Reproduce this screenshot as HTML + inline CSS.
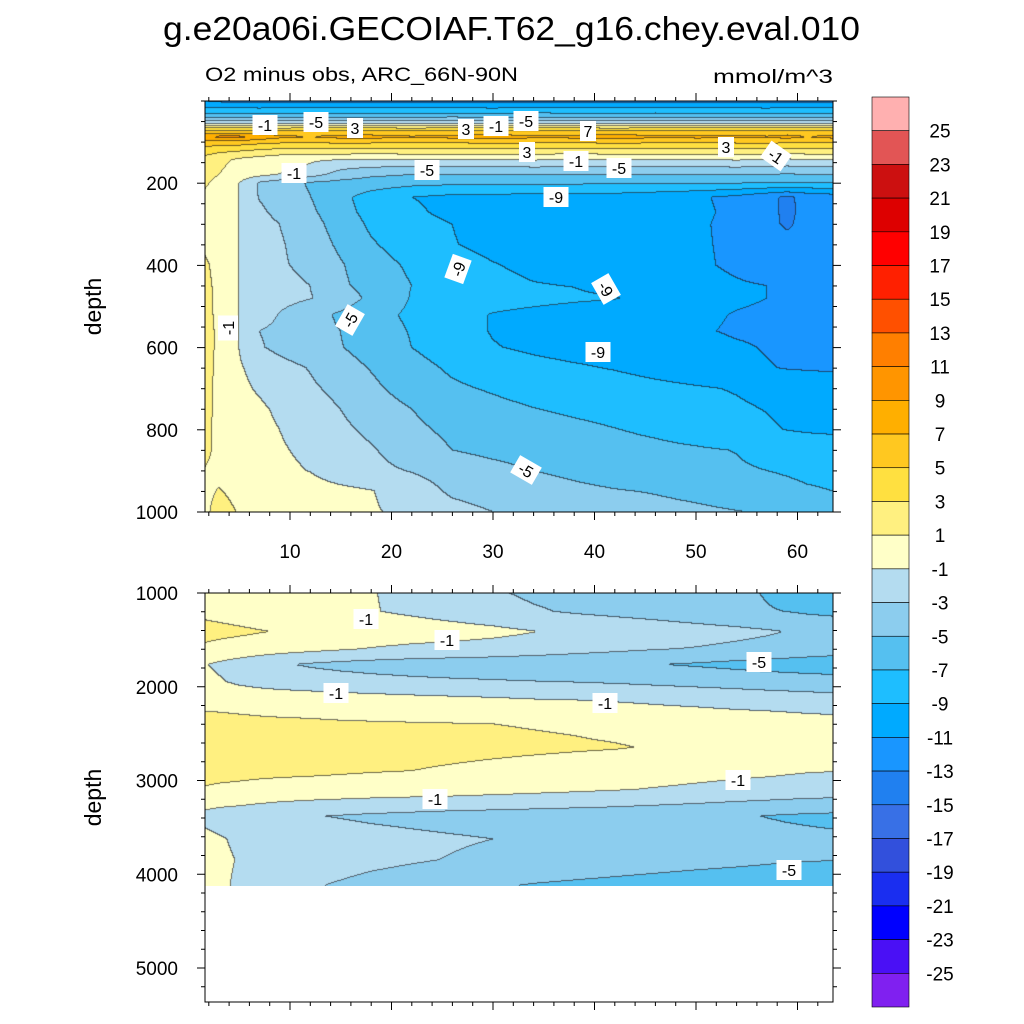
<!DOCTYPE html>
<html><head><meta charset="utf-8">
<style>
html,body{margin:0;padding:0;background:#fff;}
#wrap{position:relative;width:1024px;height:1024px;overflow:hidden;font-family:"Liberation Sans",sans-serif;}
canvas{position:absolute;}
svg{position:absolute;left:0;top:0;}
</style></head>
<body>
<div id="wrap">
<canvas id="cTop" width="628" height="411" style="left:205px;top:101px"></canvas>
<canvas id="cBot" width="628" height="293" style="left:205px;top:593px"></canvas>
<svg id="ov" width="1024" height="1024"></svg>
</div>
<script>
// ---- data ----
const levelColors=["#ffb0b0","#e25555","#cc1010","#dd0000","#ff0000","#ff2000","#ff5000","#ff7f00","#ff9500","#ffaf00","#ffc820","#ffe040","#fff080","#ffffc8","#b4dcf0","#8ccdee","#55c0f0","#1ebeff","#00aaff","#1996ff","#2080f0","#3870e6","#3250dc","#1a2ef0","#0000ff","#4a10f5","#8020f0"];
const colorbarLabels=[25,23,21,19,17,15,13,11,9,7,5,3,1,-1,-3,-5,-7,-9,-11,-13,-15,-17,-19,-21,-23,-25];
const xCols=[1.6,3,5,7,9,12,15,18,22,26,30,34,38,42,46,50,54,57,59,61,63.5];
const topDepths=[0,8,17,25,34,43,51,57,63,68,75,88,100,115,127,144,161,180,200,235,270,300,350,400,450,480,520,560,600,650,700,750,800,850,900,950,1000];
const topVals=[
[-11,-11.5,-12,-12,-12,-12,-12,-12,-12,-12,-12,-12,-12,-12,-12,-12,-12,-12,-12,-12,-12],
[-10,-10.3,-10.5,-10.5,-10.5,-10.5,-10.4,-10.6,-10.5,-10.5,-10.5,-10.4,-10.6,-10.5,-10.5,-10.5,-10.4,-10.6,-10.5,-10.5,-10.5],
[-9,-9,-9,-9.2,-9,-8.8,-9,-9.1,-8.9,-9,-9.2,-9,-8.9,-9.1,-9,-8.8,-9,-9.2,-9,-9,-9],
[-8,-8,-8,-8,-7.8,-8,-8.2,-8,-7.9,-8,-8.1,-7.8,-8,-8.2,-7.9,-8,-8,-8.1,-7.8,-8,-8],
[-6.5,-6.5,-6.7,-6.4,-6.6,-6.8,-6.3,-6.5,-6.8,-6.4,-6.6,-6.2,-6.7,-6.5,-6.4,-6.8,-6.5,-6.3,-6.6,-6.5,-6.5],
[-4.5,-4.4,-4.6,-4.3,-4.7,-4.5,-4.4,-4.8,-4.5,-4.3,-4.6,-4.5,-4.4,-4.7,-4.5,-4.4,-4.6,-4.5,-4.3,-4.5,-4.5],
[-2.5,-2.4,-2.6,-2.5,-2.3,-2.6,-2.5,-2.4,-2.6,-2.5,-2.5,-2.3,-2.6,-2.5,-2.4,-2.5,-2.6,-2.5,-2.4,-2.5,-2.5],
[-0.3,-0.4,-0.5,-0.5,-0.6,-0.5,-0.4,-0.5,-0.6,-0.5,-0.5,-0.4,-0.5,-0.5,-0.6,-0.5,-0.5,-0.4,-0.5,-0.5,-0.5],
[1.8,1.6,1.5,1.5,1.4,1.5,1.6,1.5,1.4,1.5,1.5,1.6,1.5,1.4,1.5,1.5,1.6,1.5,1.5,1.5,1.5],
[3.8,3.6,3.5,3.5,3.4,3.5,3.6,3.5,3.4,3.5,3.5,3.6,3.5,3.4,3.5,3.5,3.6,3.5,3.5,3.5,3.5],
[6,5.8,5.6,5.5,5.4,5.5,5.6,5.5,5.4,5.5,5.5,5.6,5.5,5.4,5.5,5.5,5.6,5.5,5.5,5.5,5.5],
[8,9.5,9.5,8.5,7.5,7,7.6,7.7,7.2,7.6,7.8,7.5,7.6,8.2,7.3,7.6,7.5,7.2,7.7,7,7.6],
[6.5,6.5,6.3,5.8,5.5,5.4,5.6,5.5,5.4,5.5,5.6,5.5,5.4,5.6,5.5,5.4,5.5,5.6,5.5,5.4,5.5],
[4.5,4.3,4,3.6,3.3,3.2,3.2,3.3,3.2,3.2,3.1,3.3,3.2,3.3,3.1,3.2,3.3,3.2,3.1,3.2,3.2],
[3.5,3,2.5,2,1.6,1.5,1.5,1.4,1.5,1.5,1.6,1.5,1.4,1.5,1.5,1.5,1.6,1.5,1.3,1.5,1.5],
[2.2,1.6,0.6,0.1,-0.3,-0.8,-1,-1.1,-1,-1,-1.1,-0.9,-1,-1,-1.1,-1,-0.9,-1,-1.3,-1,-1],
[2,1.3,0.3,0,-0.4,-1.2,-2.5,-2.9,-3,-3,-3.1,-2.9,-3,-3,-3.1,-3,-2.9,-3,-3.2,-3,-3],
[2,1,0,-0.5,-1.1,-2.2,-3.8,-4.6,-5,-5,-5.1,-4.9,-5,-5.1,-5,-5,-4.9,-5,-5.2,-5,-5],
[1.5,0,-1,-3.2,-4,-5.2,-5.6,-6,-6.4,-6.6,-6.6,-6.7,-6.7,-6.8,-6.8,-6.8,-6.9,-6.9,-7,-7,-7.1],
[0.3,0,-1,-3.1,-4,-4.95,-6.5,-7.8,-9,-9.5,-9.6,-9.7,-9.8,-9.8,-10.2,-10.7,-11.5,-12.6,-13.3,-12.5,-12],
[0.3,0,-1,-2.6,-3.6,-4.6,-6.3,-7.6,-8.6,-9.6,-9.9,-10,-10,-10.1,-10.3,-10.6,-11.4,-12.4,-13.4,-12.5,-12],
[0.3,0,-1,-2.2,-3,-4.2,-5.9,-7.3,-8.2,-9,-9.7,-10,-10.1,-10.2,-10.4,-10.7,-11.5,-12.4,-13.3,-12.3,-11.8],
[0.6,0,-1,-2,-2.8,-3.8,-5.4,-6.8,-7.9,-8.9,-9.5,-9.8,-9.9,-10.1,-10.3,-10.7,-11.4,-12,-12.3,-12.2,-11.8],
[1.4,0.3,-1,-2,-2.8,-3.4,-4.8,-6.2,-7.3,-8.2,-8.9,-9.4,-9.7,-10,-10.3,-10.7,-11.3,-11.9,-12.1,-12.1,-11.9],
[1.7,0.4,-1,-1.9,-2.5,-3,-4.6,-5.8,-7,-8,-8.5,-8.9,-9.05,-9.6,-10,-10.4,-10.8,-11,-11.6,-11.8,-11.8],
[1.8,0.5,-1,-1.8,-2.4,-2.9,-3.8,-5.5,-7.1,-7.7,-8.1,-8.4,-8.7,-8.9,-9.6,-10.2,-10.7,-11,-11.5,-11.7,-11.7],
[1.8,0.5,-1,-2,-3.1,-4.2,-5.3,-6.4,-7.3,-8.3,-9.1,-9.5,-9.8,-10,-10.2,-10.6,-11.1,-11.3,-11.5,-11.7,-11.8],
[1.9,0.6,-1,-3,-3.5,-4.3,-5,-6.2,-7.1,-8.3,-9.1,-9.6,-9.9,-10.1,-10.4,-10.8,-11.2,-11.3,-11.5,-11.6,-11.7],
[1.9,0.6,-1,-2.8,-3.5,-4.3,-4.9,-5.8,-7,-8,-8.9,-9.3,-9.6,-9.8,-10,-10.4,-10.8,-11.1,-11.3,-11.4,-11.5],
[1.9,0.5,-0.8,-1.6,-2.3,-3.1,-4.2,-5.1,-6.3,-7.3,-8,-8.5,-8.8,-9.1,-9.5,-9.9,-10.4,-10.9,-11.1,-11.2,-11.3],
[1.8,0.4,-0.6,-1.2,-1.9,-2.7,-3.5,-4.6,-5.8,-6.7,-7.2,-7.7,-8,-8.3,-8.6,-8.85,-9.1,-9.4,-9.6,-9.7,-9.8],
[1.8,0.4,-0.3,-0.7,-1.3,-2.2,-3,-4,-5,-5.9,-6.5,-6.95,-7.3,-7.6,-8,-8.4,-8.8,-9.05,-9.3,-9.4,-9.5],
[1.6,0.4,-0.1,-0.5,-1,-1.8,-2.6,-3.4,-4.6,-5.4,-5.9,-6.3,-6.6,-6.95,-7.3,-7.8,-8.4,-8.8,-9.05,-9.2,-9.3],
[1.5,0.5,0,-0.3,-0.8,-1.4,-2.2,-2.8,-4,-5,-5.5,-5.9,-6.2,-6.4,-6.6,-6.8,-7.05,-7.5,-7.8,-8,-8.1],
[0.9,0.5,0.1,-0.2,-0.6,-1.05,-1.9,-2.5,-3.1,-3.8,-4.4,-5,-5.4,-5.8,-6.2,-6.5,-6.8,-7,-7.2,-7.4,-7.5],
[0.6,1.1,0.6,0.2,0,-0.3,-0.6,-0.9,-2,-3.3,-3.8,-4.2,-4.6,-4.9,-5.1,-5.4,-5.8,-6.2,-6.5,-6.8,-7],
[0.6,1.6,0.9,0.5,0.3,0,-0.4,-0.8,-1.5,-2.4,-3,-3.5,-3.9,-4.2,-4.5,-4.7,-4.95,-5.1,-5.2,-5.3,-5.3]
];
const botDepths=[1000,1200,1415,1600,1766,1950,2150,2400,2650,2900,3100,3383,3628,3850,4120];
const botVals=[
[0.3,0.2,0,0,-0.1,-0.3,-0.6,-0.9,-1.5,-2.2,-2.8,-3.3,-3.6,-3.9,-4.1,-4.4,-4.7,-5.1,-5.5,-5.8,-6],
[0.5,0.4,0.2,0,-0.1,-0.3,-0.6,-0.9,-1.3,-1.8,-2.3,-2.8,-3.2,-3.5,-3.8,-4.2,-4.6,-4.9,-5.02,-5.3,-5.5],
[1.7,1.5,1.3,1.1,0.9,0.6,0.4,0.2,0,-0.2,-0.5,-0.95,-1.3,-1.6,-1.9,-2.2,-2.5,-2.8,-3.05,-3.2,-3.4],
[0.6,0.4,0.2,0,-0.2,-0.5,-0.8,-1.1,-1.4,-1.6,-1.8,-2,-2.3,-2.6,-2.9,-3.1,-3.4,-3.6,-3.8,-4,-4.2],
[-0.9,-1.3,-1.8,-2.3,-2.8,-3.2,-3.5,-3.7,-3.9,-4,-4.1,-4.3,-4.5,-4.7,-4.95,-5.2,-5.5,-5.7,-5.8,-5.9,-6],
[-0.5,-0.8,-1.3,-1.6,-1.8,-2,-2.2,-2.4,-2.6,-2.75,-2.85,-2.95,-3.05,-3.2,-3.4,-3.6,-3.8,-4,-4.1,-4.2,-4.3],
[0.5,0.4,0.3,0.2,0.1,0,-0.1,-0.2,-0.35,-0.5,-0.65,-0.85,-0.95,-1.1,-1.3,-1.5,-1.7,-1.8,-1.9,-2,-2.1],
[1.6,1.6,1.5,1.4,1.35,1.3,1.2,1.15,1.1,1.05,1.0,0.9,0.8,0.6,0.4,0.3,0.1,0,-0.1,-0.2,-0.3],
[2.2,2.2,2.1,2,2,1.9,1.8,1.7,1.6,1.5,1.4,1.3,1.2,1.1,0.9,0.7,0.5,0.4,0.3,0.2,0.1],
[1.8,1.6,1.5,1.4,1.35,1.3,1.2,1.1,1.0,0.8,0.6,0.4,0.2,0,-0.2,-0.4,-0.6,-0.7,-0.8,-0.9,-0.95],
[0.8,0.7,0.6,0.5,0.4,0.3,0.2,0.1,0,-0.1,-0.3,-0.5,-0.7,-0.9,-1.1,-1.3,-1.5,-1.6,-1.7,-1.8,-1.9],
[-1.5,-1.8,-2,-2.3,-2.6,-2.9,-3.1,-3.3,-3.5,-3.7,-3.8,-3.9,-4,-4.1,-4.3,-4.5,-4.8,-5.05,-5.2,-5.3,-5.4],
[-0.5,-0.8,-1.3,-1.6,-1.8,-2,-2.2,-2.4,-2.6,-2.8,-3,-3.2,-3.4,-3.6,-3.8,-4,-4.2,-4.4,-4.5,-4.6,-4.7],
[-0.3,-0.6,-1.1,-1.4,-1.6,-1.9,-2.2,-2.5,-2.8,-3.1,-3.4,-3.6,-3.8,-4,-4.2,-4.4,-4.6,-4.75,-4.85,-4.9,-4.95],
[-0.3,-0.6,-1.3,-1.8,-2.3,-2.8,-3.2,-3.6,-4,-4.4,-4.8,-5.1,-5.3,-5.5,-5.7,-5.9,-6,-6.1,-6.2,-6.3,-6.4]
];
const xTickLabels=[10,20,30,40,50,60];
const topDepthTicks=[200,400,600,800,1000];
const botDepthTicks=[1000,2000,3000,4000,5000];
const topContourLabels=[["-1",265,125,0],["-5",316,122,0],["3",355,128,0],["3",466,129,0],["-1",496,126,0],["-5",526,121,0],["7",588,131,0],["3",527,152,0],["-1",576,161,0],["-5",619,168,0],["3",726,147,0],["-1",776,156,35],["-1",294,173,0],["-5",427,170,0],["-9",556,197,0],["-9",458,269,-70],["-9",606,289,60],["-5",350,320,-60],["-1",228,328,-90],["-9",598,352,0],["-5",526,470,30]];
const botContourLabels=[["-1",366,619,0],["-1",447,640,0],["-5",759,662,0],["-1",336,693,0],["-1",605,703,0],["-1",738,780,0],["-1",435,799,0],["-5",789,870,0]];

// ---- axes ----
const PX0=205,PX1=833,XMIN=10-(290-205)/10.15,XMAX=10+(833-290)/10.15;
const xScale=x=>PX0+(x-XMIN)/(XMAX-XMIN)*(PX1-PX0);
const yTop=d=>101+d*0.411;
const yBot=d=>593+(d-1000)*0.09375;

function levelIdx(v){let i=Math.floor((25-v)/2)+1;return Math.max(0,Math.min(26,i));}
function hex(c){return [parseInt(c.substr(1,2),16),parseInt(c.substr(3,2),16),parseInt(c.substr(5,2),16)];}
const rgb=levelColors.map(hex);
function findIdx(arr,v){for(let i=0;i<arr.length-1;i++){if(v<=arr[i+1])return i;}return arr.length-2;}
function interp(rowsD,vals,x,d){
  const j=findIdx(xCols,x),i=findIdx(rowsD,d);
  let tx=(x-xCols[j])/(xCols[j+1]-xCols[j]);tx=Math.max(0,Math.min(1,tx));
  let ty=(d-rowsD[i])/(rowsD[i+1]-rowsD[i]);ty=Math.max(0,Math.min(1,ty));
  const a=vals[i][j],b=vals[i][j+1],c=vals[i+1][j],e=vals[i+1][j+1];
  return (a*(1-tx)+b*tx)*(1-ty)+(c*(1-tx)+e*tx)*ty;
}
function render(cv,rowsD,vals,yToD,top,maxD){
  const ctx=cv.getContext('2d'),W=cv.width,H=cv.height;
  const img=ctx.createImageData(W,H);const idx=new Int16Array(W*H);
  for(let py=0;py<H;py++){const d=yToD(top+py+0.5);
    for(let px=0;px<W;px++){
      if(d>maxD){idx[py*W+px]=-1;continue;}
      const x=XMIN+(px+0.5)/(PX1-PX0)*(XMAX-XMIN);
      idx[py*W+px]=levelIdx(interp(rowsD,vals,x,d));}}
  for(let py=0;py<H;py++)for(let px=0;px<W;px++){
    const k=py*W+px,l=idx[k],o=k*4;
    if(l<0){img.data[o]=255;img.data[o+1]=255;img.data[o+2]=255;img.data[o+3]=255;continue;}
    let edge=false;
    if(px<W-1&&idx[k+1]>=0&&idx[k+1]!==l)edge=true;
    if(py<H-1&&idx[k+W]>=0&&idx[k+W]!==l)edge=true;
    const c=rgb[l];
    if(edge){img.data[o]=c[0]*0.35+20;img.data[o+1]=c[1]*0.35+20;img.data[o+2]=c[2]*0.35+25;}
    else{img.data[o]=c[0];img.data[o+1]=c[1];img.data[o+2]=c[2];}
    img.data[o+3]=255;}
  ctx.putImageData(img,0,0);
}
render(document.getElementById('cTop'),topDepths,topVals,y=>(y-101)/0.411,101,1000);
render(document.getElementById('cBot'),botDepths,botVals,y=>1000+(y-593)/0.09375,593,4120);

// ---- overlay ----
const NS="http://www.w3.org/2000/svg",svg=document.getElementById('ov');
function mk(tag,at,parent){const e=document.createElementNS(NS,tag);for(const k in at)e.setAttribute(k,at[k]);(parent||svg).appendChild(e);return e;}
function txt(s,at,name){const e=mk('text',at);e.textContent=s;


return e;}
txt("g.e20a06i.GECOIAF.T62_g16.chey.eval.010",{x:163,y:40,'font-size':33,textLength:697,lengthAdjust:'spacingAndGlyphs',fill:'#000'},'chart-title');
txt("O2 minus obs, ARC_66N-90N",{x:205,y:81,'font-size':19,textLength:313,lengthAdjust:'spacingAndGlyphs'},'subtitle-left');
txt("mmol/m^3",{x:713,y:83,'font-size':19,textLength:120,lengthAdjust:'spacingAndGlyphs'},'units-label');

function panel(y0,y1,yFn,dTicks,minorStep,dMin,dMax,xLabels,name){
  const g=mk('g',{});
  
  
  mk('rect',{x:PX0,y:y0,width:PX1-PX0,height:y1-y0,fill:'none',stroke:'#000','stroke-width':1},g);
  for(let x=2;x<=63;x+=2){const px=xScale(x),maj=x%10===0,L=maj?8:4;
    mk('line',{x1:px,y1:y1,x2:px,y2:y1+L,stroke:'#000'},g);
    mk('line',{x1:px,y1:y0,x2:px,y2:y0-L,stroke:'#000'},g);}
  for(let d=dMin;d<=dMax;d+=minorStep){const py=yFn(d);if(py<y0-0.5||py>y1+0.5)continue;
    const maj=dTicks.indexOf(d)>=0,L=maj?8:4;
    mk('line',{x1:PX0,y1:py,x2:PX0-L,y2:py,stroke:'#000'},g);
    mk('line',{x1:PX1,y1:py,x2:PX1+L,y2:py,stroke:'#000'},g);}
  dTicks.forEach(d=>{txt(String(d),{x:178,y:yFn(d)+7,'text-anchor':'end','font-size':19},name+'-y-tick-label');});
  const cy=(y0+y1)/2;
  txt("depth",{x:101,y:cy,'text-anchor':'middle','font-size':23,transform:`rotate(-90 101 ${cy})`},name+'-y-axis-title');
  if(xLabels)xLabels.forEach(v=>{txt(String(v),{x:xScale(v),y:558,'text-anchor':'middle','font-size':19},'x-tick-label');});
}
panel(101,512,yTop,topDepthTicks,50,0,1000,xTickLabels,'upper-panel');
panel(593,1002,yBot,botDepthTicks,200,1000,5400,null,'lower-panel');

function clabels(list,name){list.forEach(l=>{
  const g=mk('g',{transform:`translate(${l[1]},${l[2]}) rotate(${l[3]})`});
  
  
  const w=l[0].length*9+7;
  mk('rect',{x:-w/2,y:-10,width:w,height:20,fill:'#fff'},g);
  const t=mk('text',{x:0,y:6,'text-anchor':'middle','font-size':16},g);t.textContent=l[0];});}
clabels(topContourLabels,'upper-contour-label');
clabels(botContourLabels,'lower-contour-label');

// colorbar
const cbX=872,cbW=37,cbY0=97,cbY1=1007,bh=(cbY1-cbY0)/levelColors.length;
levelColors.forEach((c,i)=>{const r=mk('rect',{x:cbX,y:cbY0+i*bh,width:cbW,height:bh,fill:c,stroke:'#000','stroke-width':0.6});

});
colorbarLabels.forEach((v,i)=>{txt(String(v),{x:940,y:cbY0+(i+1)*bh+7,'text-anchor':'middle','font-size':19},'colorbar-label');});
</script>
</body></html>
